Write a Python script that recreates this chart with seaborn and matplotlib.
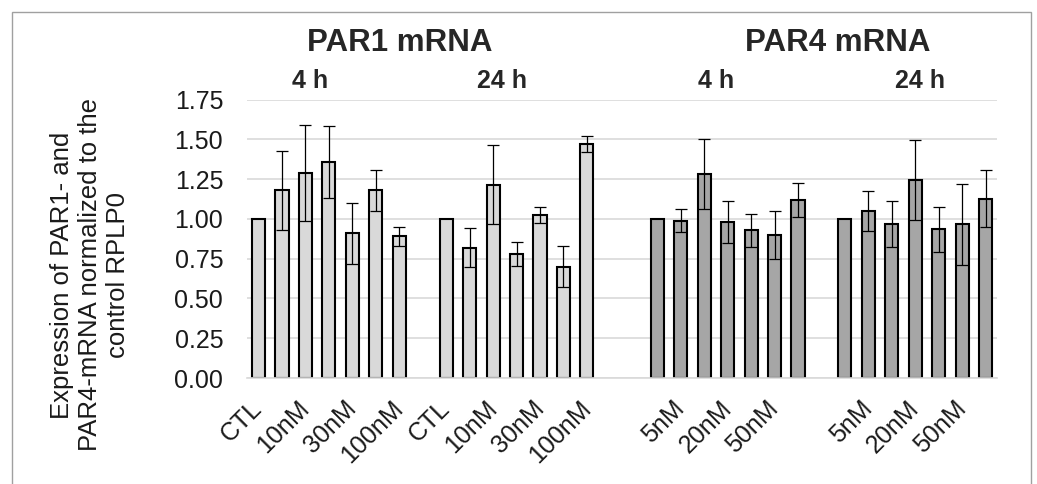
import numpy as np
import pandas as pd
import matplotlib
matplotlib.use("Agg")
import matplotlib.pyplot as plt
import matplotlib.transforms as mtransforms
from matplotlib.patches import Rectangle
import seaborn as sns

# ---------------- data ----------------
concentrations = ["CTL", "5nM", "10nM", "20nM", "30nM", "50nM", "100nM"]
groups = ["PAR1 4 h", "PAR1 24 h", "PAR4 4 h", "PAR4 24 h"]
genes = ["PAR1", "PAR1", "PAR4", "PAR4"]
group_titles = ["4 h", "24 h", "4 h", "24 h"]

par1_4h = [1.00, 1.18, 1.29, 1.36, 0.91, 1.18, 0.89]
par1_4h_err = [0.0, 0.25, 0.30, 0.225, 0.19, 0.13, 0.062]
par1_24h = [1.00, 0.82, 1.215, 0.78, 1.025, 0.70, 1.47]
par1_24h_err = [0.0, 0.125, 0.248, 0.078, 0.05, 0.13, 0.05]
par4_4h = [1.00, 0.99, 1.28, 0.98, 0.93, 0.90, 1.12]
par4_4h_err = [0.0, 0.072, 0.22, 0.134, 0.104, 0.153, 0.107]
par4_24h = [1.00, 1.05, 0.967, 1.245, 0.935, 0.967, 1.128]
par4_24h_err = [0.0, 0.125, 0.145, 0.25, 0.14, 0.255, 0.177]

values = [par1_4h, par1_24h, par4_4h, par4_24h]
errors = [par1_4h_err, par1_24h_err, par4_4h_err, par4_24h_err]

y_ticks = [0.00, 0.25, 0.50, 0.75, 1.00, 1.25, 1.50, 1.75]
ylabel = "Expression of PAR1- and\nPAR4-mRNA normalized to the\ncontrol RPLP0"

# ---------------- layout helpers ----------------
gap_after = [1, 2, 1, 0]
palette = {"PAR1": "#D9D9D9", "PAR4": "#A6A6A6"}

rows, order, cat_labels = [], [], []
for gi, (g, gene, vals, errs) in enumerate(zip(groups, genes, values, errors)):
    for c, v, e in zip(concentrations, vals, errs):
        key = f"{g} {c}"
        order.append(key)
        cat_labels.append(c)
        rows.append(dict(slot=key, gene=gene, value=v, err=e))
    for k in range(gap_after[gi]):
        order.append(f"gap{gi}_{k}")
        cat_labels.append("")
df = pd.DataFrame(rows)
slot_index = {k: i for i, k in enumerate(order)}
df["pos"] = df["slot"].map(slot_index)

sns.set_style("white")
plt.rcParams["font.family"] = ["Liberation Sans", "DejaVu Sans"]

fig = plt.figure(figsize=(10.37, 4.84), dpi=100)
ax = fig.add_axes([0.238, 0.219, 0.7238, 0.575])

sns.barplot(data=df, x="slot", y="value", hue="gene", order=order,
            palette=palette, dodge=False, width=0.56, edgecolor="black",
            linewidth=1.5, errorbar=None, legend=False, ax=ax, zorder=2)

e = df[df["err"] > 0]
ax.errorbar(e["pos"], e["value"], yerr=e["err"], fmt="none", ecolor="black",
            elinewidth=0.9, capsize=4.3, capthick=0.9, zorder=3)

ax.set_xlim(-0.5, len(order) - 0.5)
ax.set_ylim(0, 1.75)
ax.set_yticks(y_ticks)
ax.set_yticklabels([f"{t:.2f}" for t in y_ticks], fontsize=18, color="#1a1a1a")
ax.set_xticks(range(len(order)))
ax.set_xticklabels([lab if i % 2 == 0 else "" for i, lab in enumerate(cat_labels)],
                   fontsize=18, rotation=45, ha="right", va="center",
                   rotation_mode="anchor", color="#1a1a1a")
ax.tick_params(axis="both", length=0)
ax.tick_params(axis="y", pad=17)
ax.tick_params(axis="x", pad=19)
ax.set_xlabel("")
ax.set_ylabel("")

ax.yaxis.grid(True, color="#D9D9D9", linewidth=1.2)
ax.set_axisbelow(True)
for s in ["top", "right", "left"]:
    ax.spines[s].set_visible(False)
ax.spines["bottom"].set_color("#D9D9D9")
ax.spines["bottom"].set_linewidth(1.2)

# titles
trans = mtransforms.blended_transform_factory(ax.transData, fig.transFigure)
ax.text(6.0, 0.911, "PAR1 mRNA", transform=trans, ha="center", va="center",
        fontsize=22.5, fontweight="bold")
ax.text(24.7, 0.911, "PAR4 mRNA", transform=trans, ha="center", va="center",
        fontsize=22.5, fontweight="bold")
for xpos, t in zip([2.2, 10.4, 19.5, 28.2], group_titles):
    ax.text(xpos, 0.833, t, transform=trans, ha="center", va="center",
            fontsize=18, fontweight="bold")

fig.text(0.0865, 0.432, ylabel, rotation=90, ha="center", va="center",
         fontsize=18.5, multialignment="center", linespacing=1.2, color="#1a1a1a")

# outer frame
fig.patches.append(Rectangle((0.0116, -0.05), 0.983, 1.025, transform=fig.transFigure,
                             fill=False, edgecolor="#A0A0A0", linewidth=1.0))

fig.savefig("out.png", dpi=100)
